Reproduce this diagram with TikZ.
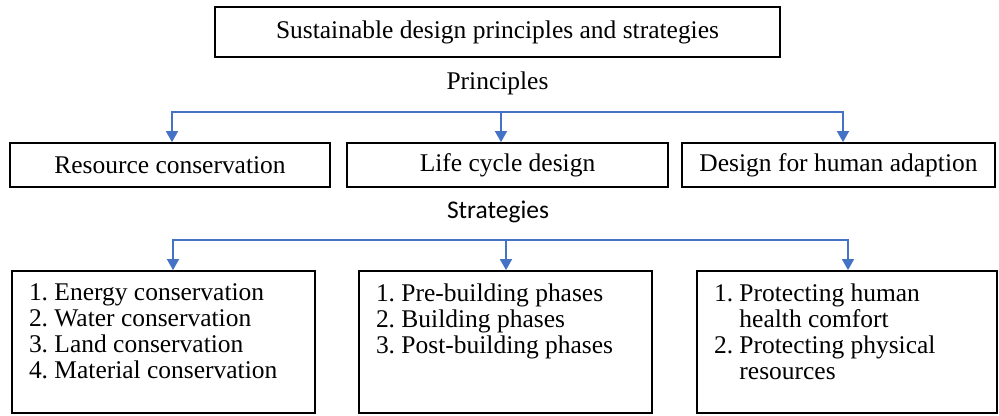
\documentclass[tikz,border=0pt]{standalone}
\usepackage{fontspec}
\setmainfont{Liberation Serif}
\newfontfamily\labelfont{Carlito}
\usetikzlibrary{arrows.meta,positioning}
\frenchspacing

\definecolor{arrowblue}{HTML}{4472C4}

\tikzstyle{heading} = [rectangle, draw, line width=1pt, 
minimum width=11.3cm, minimum height=1cm]
\tikzstyle{principle} = [rectangle, draw, line width=1pt, minimum height=0.88cm]
\tikzstyle{strategy} = [rectangle, draw, line width=1pt, 
minimum height=2.84cm, inner xsep=0.34cm, inner ysep=0.25cm]
\tikzstyle{caption} = [inner sep=0pt]
\tikzstyle{branch} = [draw, arrowblue, line width=0.9pt]
\tikzstyle{line} = [branch, -{Triangle[length=0.22cm, width=0.24cm]}]

\begin{document}
\begin{tikzpicture}[node distance = 2cm, font=\fontsize{14.5}{14.8}\selectfont]
	\useasboundingbox (0,0) rectangle (19.98,-8.3);

	%Nodes
	\node [heading] (title) at (9.95,-0.64) {Sustainable design principles and strategies};
	\node [caption, below of = title, node distance = 1.02cm] (principles) {Principles};

	\node [principle, minimum width=6.42cm] (lifecycle) at (10.15,-3.3) {Life cycle design};
	\node [principle, minimum width=6.4cm, left of = lifecycle, node distance = 6.75cm] (resource) {Resource conservation};
	\node [principle, minimum width=6.26cm, right of = lifecycle, node distance = 6.62cm] (human) {Design for human adaption};

	\node [caption] (strategies) at (9.96,-4.24) {\labelfont Strategies};

	\node [strategy] (phases) at (10.11,-6.84) {\parbox[c][2.34cm][t]{5.18cm}{1. Pre-building phases\\
		2. Building phases\\
		3. Post-building phases}};
	\node [strategy, left of = phases, node distance = 6.84cm] (conservation) {\parbox[c][2.34cm][t]{5.38cm}{1. Energy conservation\\
		2. Water conservation\\
		3. Land conservation\\
		4. Material conservation}};
	\node [strategy, right of = phases, node distance = 6.83cm] (protection) {\parbox[c][2.34cm][t]{5.32cm}{1. Protecting human\\
		\phantom{1. }health comfort\\
		2. Protecting physical\\
		\phantom{2. }resources}};

	%Lines
	\coordinate (pa) at (3.44,-2.24);
	\coordinate (pb) at (10.02,-2.24);
	\coordinate (pc) at (16.86,-2.24);
	\path [line] (pb) -- (pa) -- (pa |- resource.north);
	\path [line] (pb) -- (pb |- lifecycle.north);
	\path [line] (pb) -- (pc) -- (pc |- human.north);

	\coordinate (sa) at (3.46,-4.8);
	\coordinate (sb) at (10.12,-4.8);
	\coordinate (sc) at (16.96,-4.8);
	\path [line] (sb) -- (sa) -- (sa |- conservation.north);
	\path [line] (sb) -- (sb |- phases.north);
	\path [line] (sb) -- (sc) -- (sc |- protection.north);

\end{tikzpicture}
\end{document}
